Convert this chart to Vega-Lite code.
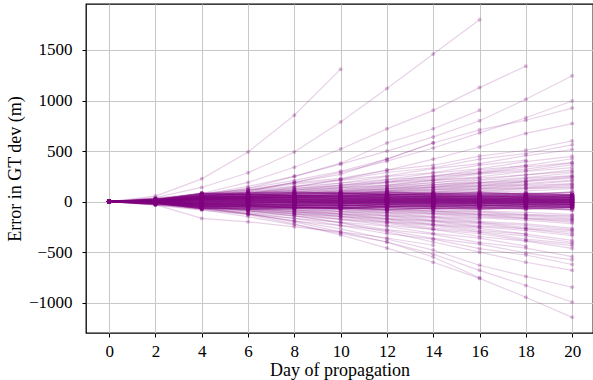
{
"$schema":"https://vega.github.io/schema/vega-lite/v6.json",
"width":507,"height":329,
"autosize":{"type":"none"},
"padding":{"left":86,"top":4,"right":0,"bottom":47},
"background":"white",
"config":{"view":{"stroke":"#000","strokeWidth":1.3},"font":"Liberation Serif",
"axis":{"labelFont":"Liberation Serif","titleFont":"Liberation Serif","labelFontSize":17,"titleFontSize":18,"titleFontWeight":"normal","labelColor":"#000","titleColor":"#000","tickColor":"#000","tickSize":4,"tickWidth":1,"domain":false,"gridColor":"#c8c8c8","gridWidth":1}},
"data":{"values":[
{"l":"c1","d":0,"e":0},{"l":"c1","d":2,"e":17},{"l":"c1","d":4,"e":80},{"l":"c1","d":6,"e":85},{"l":"c1","d":8,"e":93},{"l":"c1","d":10,"e":80},{"l":"c1","d":12,"e":95},{"l":"c1","d":14,"e":77},{"l":"c1","d":16,"e":90},{"l":"c1","d":18,"e":75},{"l":"c1","d":20,"e":91},
{"l":"c2","d":0,"e":0},{"l":"c2","d":2,"e":15},{"l":"c2","d":4,"e":79},{"l":"c2","d":6,"e":69},{"l":"c2","d":8,"e":79},{"l":"c2","d":10,"e":85},{"l":"c2","d":12,"e":67},{"l":"c2","d":14,"e":81},{"l":"c2","d":16,"e":71},{"l":"c2","d":18,"e":83},{"l":"c2","d":20,"e":65},
{"l":"c3","d":0,"e":0},{"l":"c3","d":2,"e":14},{"l":"c3","d":4,"e":60},{"l":"c3","d":6,"e":73},{"l":"c3","d":8,"e":58},{"l":"c3","d":10,"e":71},{"l":"c3","d":12,"e":76},{"l":"c3","d":14,"e":62},{"l":"c3","d":16,"e":78},{"l":"c3","d":18,"e":65},{"l":"c3","d":20,"e":68},
{"l":"c4","d":0,"e":0},{"l":"c4","d":2,"e":12},{"l":"c4","d":4,"e":66},{"l":"c4","d":6,"e":70},{"l":"c4","d":8,"e":56},{"l":"c4","d":10,"e":52},{"l":"c4","d":12,"e":65},{"l":"c4","d":14,"e":69},{"l":"c4","d":16,"e":53},{"l":"c4","d":18,"e":64},{"l":"c4","d":20,"e":54},
{"l":"c5","d":0,"e":0},{"l":"c5","d":2,"e":11},{"l":"c5","d":4,"e":50},{"l":"c5","d":6,"e":55},{"l":"c5","d":8,"e":63},{"l":"c5","d":10,"e":50},{"l":"c5","d":12,"e":65},{"l":"c5","d":14,"e":47},{"l":"c5","d":16,"e":60},{"l":"c5","d":18,"e":45},{"l":"c5","d":20,"e":61},
{"l":"c6","d":0,"e":0},{"l":"c6","d":2,"e":10},{"l":"c6","d":4,"e":54},{"l":"c6","d":6,"e":44},{"l":"c6","d":8,"e":54},{"l":"c6","d":10,"e":60},{"l":"c6","d":12,"e":42},{"l":"c6","d":14,"e":56},{"l":"c6","d":16,"e":46},{"l":"c6","d":18,"e":58},{"l":"c6","d":20,"e":40},
{"l":"c7","d":0,"e":0},{"l":"c7","d":2,"e":9},{"l":"c7","d":4,"e":37},{"l":"c7","d":6,"e":50},{"l":"c7","d":8,"e":35},{"l":"c7","d":10,"e":48},{"l":"c7","d":12,"e":53},{"l":"c7","d":14,"e":39},{"l":"c7","d":16,"e":55},{"l":"c7","d":18,"e":42},{"l":"c7","d":20,"e":45},
{"l":"c8","d":0,"e":0},{"l":"c8","d":2,"e":8},{"l":"c8","d":4,"e":46},{"l":"c8","d":6,"e":50},{"l":"c8","d":8,"e":36},{"l":"c8","d":10,"e":32},{"l":"c8","d":12,"e":45},{"l":"c8","d":14,"e":49},{"l":"c8","d":16,"e":33},{"l":"c8","d":18,"e":44},{"l":"c8","d":20,"e":34},
{"l":"c9","d":0,"e":0},{"l":"c9","d":2,"e":7},{"l":"c9","d":4,"e":30},{"l":"c9","d":6,"e":35},{"l":"c9","d":8,"e":43},{"l":"c9","d":10,"e":30},{"l":"c9","d":12,"e":45},{"l":"c9","d":14,"e":27},{"l":"c9","d":16,"e":40},{"l":"c9","d":18,"e":25},{"l":"c9","d":20,"e":41},
{"l":"c10","d":0,"e":0},{"l":"c10","d":2,"e":6},{"l":"c10","d":4,"e":34},{"l":"c10","d":6,"e":24},{"l":"c10","d":8,"e":34},{"l":"c10","d":10,"e":40},{"l":"c10","d":12,"e":22},{"l":"c10","d":14,"e":36},{"l":"c10","d":16,"e":26},{"l":"c10","d":18,"e":38},{"l":"c10","d":20,"e":20},
{"l":"c11","d":0,"e":0},{"l":"c11","d":2,"e":5},{"l":"c11","d":4,"e":18},{"l":"c11","d":6,"e":31},{"l":"c11","d":8,"e":16},{"l":"c11","d":10,"e":29},{"l":"c11","d":12,"e":34},{"l":"c11","d":14,"e":20},{"l":"c11","d":16,"e":36},{"l":"c11","d":18,"e":23},{"l":"c11","d":20,"e":26},
{"l":"c12","d":0,"e":0},{"l":"c12","d":2,"e":4},{"l":"c12","d":4,"e":28},{"l":"c12","d":6,"e":32},{"l":"c12","d":8,"e":18},{"l":"c12","d":10,"e":14},{"l":"c12","d":12,"e":27},{"l":"c12","d":14,"e":31},{"l":"c12","d":16,"e":15},{"l":"c12","d":18,"e":26},{"l":"c12","d":20,"e":16},
{"l":"c13","d":0,"e":0},{"l":"c13","d":2,"e":4},{"l":"c13","d":4,"e":13},{"l":"c13","d":6,"e":18},{"l":"c13","d":8,"e":26},{"l":"c13","d":10,"e":13},{"l":"c13","d":12,"e":28},{"l":"c13","d":14,"e":10},{"l":"c13","d":16,"e":23},{"l":"c13","d":18,"e":8},{"l":"c13","d":20,"e":24},
{"l":"c14","d":0,"e":0},{"l":"c14","d":2,"e":3},{"l":"c14","d":4,"e":18},{"l":"c14","d":6,"e":8},{"l":"c14","d":8,"e":18},{"l":"c14","d":10,"e":24},{"l":"c14","d":12,"e":6},{"l":"c14","d":14,"e":20},{"l":"c14","d":16,"e":10},{"l":"c14","d":18,"e":22},{"l":"c14","d":20,"e":4},
{"l":"c15","d":0,"e":0},{"l":"c15","d":2,"e":2},{"l":"c15","d":4,"e":2},{"l":"c15","d":6,"e":15},{"l":"c15","d":8,"e":0},{"l":"c15","d":10,"e":13},{"l":"c15","d":12,"e":18},{"l":"c15","d":14,"e":4},{"l":"c15","d":16,"e":20},{"l":"c15","d":18,"e":7},{"l":"c15","d":20,"e":10},
{"l":"c16","d":0,"e":0},{"l":"c16","d":2,"e":1},{"l":"c16","d":4,"e":12},{"l":"c16","d":6,"e":16},{"l":"c16","d":8,"e":2},{"l":"c16","d":10,"e":-2},{"l":"c16","d":12,"e":11},{"l":"c16","d":14,"e":15},{"l":"c16","d":16,"e":-1},{"l":"c16","d":18,"e":10},{"l":"c16","d":20,"e":0},
{"l":"c17","d":0,"e":0},{"l":"c17","d":2,"e":0},{"l":"c17","d":4,"e":-3},{"l":"c17","d":6,"e":2},{"l":"c17","d":8,"e":10},{"l":"c17","d":10,"e":-3},{"l":"c17","d":12,"e":12},{"l":"c17","d":14,"e":-6},{"l":"c17","d":16,"e":7},{"l":"c17","d":18,"e":-8},{"l":"c17","d":20,"e":8},
{"l":"c18","d":0,"e":0},{"l":"c18","d":2,"e":0},{"l":"c18","d":4,"e":2},{"l":"c18","d":6,"e":-8},{"l":"c18","d":8,"e":2},{"l":"c18","d":10,"e":8},{"l":"c18","d":12,"e":-10},{"l":"c18","d":14,"e":4},{"l":"c18","d":16,"e":-6},{"l":"c18","d":18,"e":6},{"l":"c18","d":20,"e":-12},
{"l":"c19","d":0,"e":0},{"l":"c19","d":2,"e":-1},{"l":"c19","d":4,"e":-14},{"l":"c19","d":6,"e":-1},{"l":"c19","d":8,"e":-16},{"l":"c19","d":10,"e":-3},{"l":"c19","d":12,"e":2},{"l":"c19","d":14,"e":-12},{"l":"c19","d":16,"e":4},{"l":"c19","d":18,"e":-9},{"l":"c19","d":20,"e":-6},
{"l":"c20","d":0,"e":0},{"l":"c20","d":2,"e":-2},{"l":"c20","d":4,"e":-4},{"l":"c20","d":6,"e":0},{"l":"c20","d":8,"e":-14},{"l":"c20","d":10,"e":-18},{"l":"c20","d":12,"e":-5},{"l":"c20","d":14,"e":-1},{"l":"c20","d":16,"e":-17},{"l":"c20","d":18,"e":-6},{"l":"c20","d":20,"e":-16},
{"l":"c21","d":0,"e":0},{"l":"c21","d":2,"e":-3},{"l":"c21","d":4,"e":-20},{"l":"c21","d":6,"e":-15},{"l":"c21","d":8,"e":-7},{"l":"c21","d":10,"e":-20},{"l":"c21","d":12,"e":-5},{"l":"c21","d":14,"e":-23},{"l":"c21","d":16,"e":-10},{"l":"c21","d":18,"e":-25},{"l":"c21","d":20,"e":-9},
{"l":"c22","d":0,"e":0},{"l":"c22","d":2,"e":-4},{"l":"c22","d":4,"e":-16},{"l":"c22","d":6,"e":-26},{"l":"c22","d":8,"e":-16},{"l":"c22","d":10,"e":-10},{"l":"c22","d":12,"e":-28},{"l":"c22","d":14,"e":-14},{"l":"c22","d":16,"e":-24},{"l":"c22","d":18,"e":-12},{"l":"c22","d":20,"e":-30},
{"l":"c23","d":0,"e":0},{"l":"c23","d":2,"e":-5},{"l":"c23","d":4,"e":-33},{"l":"c23","d":6,"e":-20},{"l":"c23","d":8,"e":-35},{"l":"c23","d":10,"e":-22},{"l":"c23","d":12,"e":-17},{"l":"c23","d":14,"e":-31},{"l":"c23","d":16,"e":-15},{"l":"c23","d":18,"e":-28},{"l":"c23","d":20,"e":-25},
{"l":"c24","d":0,"e":0},{"l":"c24","d":2,"e":-6},{"l":"c24","d":4,"e":-24},{"l":"c24","d":6,"e":-20},{"l":"c24","d":8,"e":-34},{"l":"c24","d":10,"e":-38},{"l":"c24","d":12,"e":-25},{"l":"c24","d":14,"e":-21},{"l":"c24","d":16,"e":-37},{"l":"c24","d":18,"e":-26},{"l":"c24","d":20,"e":-36},
{"l":"c25","d":0,"e":0},{"l":"c25","d":2,"e":-7},{"l":"c25","d":4,"e":-41},{"l":"c25","d":6,"e":-36},{"l":"c25","d":8,"e":-28},{"l":"c25","d":10,"e":-41},{"l":"c25","d":12,"e":-26},{"l":"c25","d":14,"e":-44},{"l":"c25","d":16,"e":-31},{"l":"c25","d":18,"e":-46},{"l":"c25","d":20,"e":-30},
{"l":"c26","d":0,"e":0},{"l":"c26","d":2,"e":-8},{"l":"c26","d":4,"e":-38},{"l":"c26","d":6,"e":-48},{"l":"c26","d":8,"e":-38},{"l":"c26","d":10,"e":-32},{"l":"c26","d":12,"e":-50},{"l":"c26","d":14,"e":-36},{"l":"c26","d":16,"e":-46},{"l":"c26","d":18,"e":-34},{"l":"c26","d":20,"e":-52},
{"l":"c27","d":0,"e":0},{"l":"c27","d":2,"e":-10},{"l":"c27","d":4,"e":-56},{"l":"c27","d":6,"e":-43},{"l":"c27","d":8,"e":-58},{"l":"c27","d":10,"e":-45},{"l":"c27","d":12,"e":-40},{"l":"c27","d":14,"e":-54},{"l":"c27","d":16,"e":-38},{"l":"c27","d":18,"e":-51},{"l":"c27","d":20,"e":-48},
{"l":"c28","d":0,"e":0},{"l":"c28","d":2,"e":-11},{"l":"c28","d":4,"e":-49},{"l":"c28","d":6,"e":-45},{"l":"c28","d":8,"e":-59},{"l":"c28","d":10,"e":-63},{"l":"c28","d":12,"e":-50},{"l":"c28","d":14,"e":-46},{"l":"c28","d":16,"e":-62},{"l":"c28","d":18,"e":-51},{"l":"c28","d":20,"e":-61},
{"l":"c29","d":0,"e":0},{"l":"c29","d":2,"e":-12},{"l":"c29","d":4,"e":-67},{"l":"c29","d":6,"e":-62},{"l":"c29","d":8,"e":-54},{"l":"c29","d":10,"e":-67},{"l":"c29","d":12,"e":-52},{"l":"c29","d":14,"e":-70},{"l":"c29","d":16,"e":-57},{"l":"c29","d":18,"e":-72},{"l":"c29","d":20,"e":-56},
{"l":"c30","d":0,"e":0},{"l":"c30","d":2,"e":-14},{"l":"c30","d":4,"e":-66},{"l":"c30","d":6,"e":-76},{"l":"c30","d":8,"e":-66},{"l":"c30","d":10,"e":-60},{"l":"c30","d":12,"e":-78},{"l":"c30","d":14,"e":-64},{"l":"c30","d":16,"e":-74},{"l":"c30","d":18,"e":-62},{"l":"c30","d":20,"e":-80},
{"l":"p1","d":0,"e":0},{"l":"p1","d":2,"e":35},{"l":"p1","d":4,"e":82},{"l":"p1","d":6,"e":118},{"l":"p1","d":8,"e":186},{"l":"p1","d":10,"e":230},{"l":"p1","d":12,"e":312},{"l":"p1","d":14,"e":360},{"l":"p1","d":16,"e":450},{"l":"p1","d":18,"e":508},{"l":"p1","d":20,"e":600},
{"l":"p2","d":0,"e":0},{"l":"p2","d":2,"e":30},{"l":"p2","d":4,"e":75},{"l":"p2","d":6,"e":112},{"l":"p2","d":8,"e":172},{"l":"p2","d":10,"e":216},{"l":"p2","d":12,"e":288},{"l":"p2","d":14,"e":335},{"l":"p2","d":16,"e":420},{"l":"p2","d":18,"e":476},{"l":"p2","d":20,"e":562},
{"l":"p3","d":0,"e":0},{"l":"p3","d":2,"e":31},{"l":"p3","d":4,"e":64},{"l":"p3","d":6,"e":112},{"l":"p3","d":8,"e":150},{"l":"p3","d":10,"e":210},{"l":"p3","d":12,"e":254},{"l":"p3","d":14,"e":326},{"l":"p3","d":16,"e":376},{"l":"p3","d":18,"e":455},{"l":"p3","d":20,"e":515},
{"l":"p4","d":0,"e":0},{"l":"p4","d":2,"e":26},{"l":"p4","d":4,"e":64},{"l":"p4","d":6,"e":95},{"l":"p4","d":8,"e":148},{"l":"p4","d":10,"e":184},{"l":"p4","d":12,"e":247},{"l":"p4","d":14,"e":288},{"l":"p4","d":16,"e":360},{"l":"p4","d":18,"e":410},
{"l":"p5","d":0,"e":0},{"l":"p5","d":2,"e":27},{"l":"p5","d":4,"e":55},{"l":"p5","d":6,"e":97},{"l":"p5","d":8,"e":128},{"l":"p5","d":10,"e":182},{"l":"p5","d":12,"e":220},{"l":"p5","d":14,"e":282},{"l":"p5","d":16,"e":325},{"l":"p5","d":18,"e":395},{"l":"p5","d":20,"e":448},
{"l":"p6","d":0,"e":0},{"l":"p6","d":2,"e":22},{"l":"p6","d":4,"e":57},{"l":"p6","d":6,"e":84},{"l":"p6","d":8,"e":130},{"l":"p6","d":10,"e":160},{"l":"p6","d":12,"e":216},{"l":"p6","d":14,"e":250},{"l":"p6","d":16,"e":316},{"l":"p6","d":18,"e":356},{"l":"p6","d":20,"e":424},
{"l":"p7","d":0,"e":0},{"l":"p7","d":2,"e":24},{"l":"p7","d":4,"e":48},{"l":"p7","d":6,"e":85},{"l":"p7","d":8,"e":110},{"l":"p7","d":10,"e":159},{"l":"p7","d":12,"e":190},{"l":"p7","d":14,"e":245},{"l":"p7","d":16,"e":282},{"l":"p7","d":18,"e":343},{"l":"p7","d":20,"e":386},
{"l":"p8","d":0,"e":0},{"l":"p8","d":2,"e":20},{"l":"p8","d":4,"e":49},{"l":"p8","d":6,"e":72},{"l":"p8","d":8,"e":112},{"l":"p8","d":10,"e":138},{"l":"p8","d":12,"e":186},{"l":"p8","d":14,"e":215},{"l":"p8","d":16,"e":271},{"l":"p8","d":18,"e":305},{"l":"p8","d":20,"e":364},
{"l":"p9","d":0,"e":0},{"l":"p9","d":2,"e":18},{"l":"p9","d":4,"e":40},{"l":"p9","d":6,"e":71},{"l":"p9","d":8,"e":94},{"l":"p9","d":10,"e":134},{"l":"p9","d":12,"e":160},{"l":"p9","d":14,"e":208},{"l":"p9","d":16,"e":238},
{"l":"p10","d":0,"e":0},{"l":"p10","d":2,"e":18},{"l":"p10","d":4,"e":36},{"l":"p10","d":6,"e":65},{"l":"p10","d":8,"e":86},{"l":"p10","d":10,"e":122},{"l":"p10","d":12,"e":146},{"l":"p10","d":14,"e":189},{"l":"p10","d":16,"e":216},{"l":"p10","d":18,"e":265},{"l":"p10","d":20,"e":297},
{"l":"p11","d":0,"e":0},{"l":"p11","d":2,"e":15},{"l":"p11","d":4,"e":38},{"l":"p11","d":6,"e":55},{"l":"p11","d":8,"e":87},{"l":"p11","d":10,"e":106},{"l":"p11","d":12,"e":145},{"l":"p11","d":14,"e":167},{"l":"p11","d":16,"e":211},{"l":"p11","d":18,"e":237},{"l":"p11","d":20,"e":283},
{"l":"p12","d":0,"e":0},{"l":"p12","d":2,"e":16},{"l":"p12","d":4,"e":31},{"l":"p12","d":6,"e":57},{"l":"p12","d":8,"e":74},{"l":"p12","d":10,"e":106},{"l":"p12","d":12,"e":126},{"l":"p12","d":14,"e":164},{"l":"p12","d":16,"e":187},{"l":"p12","d":18,"e":230},{"l":"p12","d":20,"e":257},
{"l":"p13","d":0,"e":0},{"l":"p13","d":2,"e":13},{"l":"p13","d":4,"e":33},{"l":"p13","d":6,"e":47},{"l":"p13","d":8,"e":75},{"l":"p13","d":10,"e":92},{"l":"p13","d":12,"e":124},{"l":"p13","d":14,"e":143},{"l":"p13","d":16,"e":181},{"l":"p13","d":18,"e":202},{"l":"p13","d":20,"e":243},
{"l":"p14","d":0,"e":0},{"l":"p14","d":2,"e":14},{"l":"p14","d":4,"e":26},{"l":"p14","d":6,"e":49},{"l":"p14","d":8,"e":62},{"l":"p14","d":10,"e":90},{"l":"p14","d":12,"e":107},{"l":"p14","d":14,"e":139},{"l":"p14","d":16,"e":158},{"l":"p14","d":18,"e":195},
{"l":"p15","d":0,"e":0},{"l":"p15","d":2,"e":11},{"l":"p15","d":4,"e":28},{"l":"p15","d":6,"e":39},{"l":"p15","d":8,"e":62},{"l":"p15","d":10,"e":76},{"l":"p15","d":12,"e":104},{"l":"p15","d":14,"e":119},{"l":"p15","d":16,"e":151},{"l":"p15","d":18,"e":169},{"l":"p15","d":20,"e":203},
{"l":"p16","d":0,"e":0},{"l":"p16","d":2,"e":11},{"l":"p16","d":4,"e":21},{"l":"p16","d":6,"e":40},{"l":"p16","d":8,"e":50},{"l":"p16","d":10,"e":74},{"l":"p16","d":12,"e":87},{"l":"p16","d":14,"e":113},{"l":"p16","d":16,"e":129},{"l":"p16","d":18,"e":160},{"l":"p16","d":20,"e":178},
{"l":"p17","d":0,"e":0},{"l":"p17","d":2,"e":8},{"l":"p17","d":4,"e":22},{"l":"p17","d":6,"e":31},{"l":"p17","d":8,"e":50},{"l":"p17","d":10,"e":60},{"l":"p17","d":12,"e":83},{"l":"p17","d":14,"e":95},{"l":"p17","d":16,"e":121},{"l":"p17","d":18,"e":135},{"l":"p17","d":20,"e":162},
{"l":"p18","d":0,"e":0},{"l":"p18","d":2,"e":9},{"l":"p18","d":4,"e":16},{"l":"p18","d":6,"e":31},{"l":"p18","d":8,"e":39},{"l":"p18","d":10,"e":58},{"l":"p18","d":12,"e":67},{"l":"p18","d":14,"e":89},{"l":"p18","d":16,"e":100},{"l":"p18","d":18,"e":125},{"l":"p18","d":20,"e":138},
{"l":"q1","d":0,"e":0},{"l":"q1","d":2,"e":7},{"l":"q1","d":4,"e":18},{"l":"q1","d":6,"e":24},{"l":"q1","d":8,"e":39},{"l":"q1","d":10,"e":47},{"l":"q1","d":12,"e":65},{"l":"q1","d":14,"e":75},{"l":"q1","d":16,"e":94},{"l":"q1","d":18,"e":106},{"l":"q1","d":20,"e":127},
{"l":"q2","d":0,"e":0},{"l":"q2","d":2,"e":10},{"l":"q2","d":4,"e":17},{"l":"q2","d":6,"e":33},{"l":"q2","d":8,"e":42},{"l":"q2","d":10,"e":61},{"l":"q2","d":12,"e":73},{"l":"q2","d":14,"e":94},{"l":"q2","d":16,"e":108},{"l":"q2","d":18,"e":132},{"l":"q2","d":20,"e":148},
{"l":"q3","d":0,"e":0},{"l":"q3","d":2,"e":9},{"l":"q3","d":4,"e":24},{"l":"q3","d":6,"e":33},{"l":"q3","d":8,"e":52},{"l":"q3","d":10,"e":65},{"l":"q3","d":12,"e":87},{"l":"q3","d":14,"e":102},{"l":"q3","d":16,"e":127},{"l":"q3","d":18,"e":145},{"l":"q3","d":20,"e":172},
{"l":"q4","d":0,"e":0},{"l":"q4","d":2,"e":12},{"l":"q4","d":4,"e":22},{"l":"q4","d":6,"e":41},{"l":"q4","d":8,"e":54},{"l":"q4","d":10,"e":77},{"l":"q4","d":12,"e":93},{"l":"q4","d":14,"e":118},{"l":"q4","d":16,"e":138},{"l":"q4","d":18,"e":166},
{"l":"q5","d":0,"e":0},{"l":"q5","d":2,"e":11},{"l":"q5","d":4,"e":29},{"l":"q5","d":6,"e":41},{"l":"q5","d":8,"e":64},{"l":"q5","d":10,"e":81},{"l":"q5","d":12,"e":107},{"l":"q5","d":14,"e":127},{"l":"q5","d":16,"e":156},{"l":"q5","d":18,"e":179},{"l":"q5","d":20,"e":212},
{"l":"q6","d":0,"e":0},{"l":"q6","d":2,"e":14},{"l":"q6","d":4,"e":27},{"l":"q6","d":6,"e":50},{"l":"q6","d":8,"e":66},{"l":"q6","d":10,"e":93},{"l":"q6","d":12,"e":113},{"l":"q6","d":14,"e":143},{"l":"q6","d":16,"e":167},{"l":"q6","d":18,"e":197},{"l":"q6","d":20,"e":232},
{"l":"q7","d":0,"e":0},{"l":"q7","d":2,"e":14},{"l":"q7","d":4,"e":34},{"l":"q7","d":6,"e":50},{"l":"q7","d":8,"e":77},{"l":"q7","d":10,"e":97},{"l":"q7","d":12,"e":128},{"l":"q7","d":14,"e":150},{"l":"q7","d":16,"e":187},{"l":"q7","d":18,"e":213},{"l":"q7","d":20,"e":252},
{"l":"q8","d":0,"e":0},{"l":"q8","d":2,"e":17},{"l":"q8","d":4,"e":33},{"l":"q8","d":6,"e":58},{"l":"q8","d":8,"e":78},{"l":"q8","d":10,"e":109},{"l":"q8","d":12,"e":132},{"l":"q8","d":14,"e":169},{"l":"q8","d":16,"e":195},
{"l":"q9","d":0,"e":0},{"l":"q9","d":2,"e":17},{"l":"q9","d":4,"e":42},{"l":"q9","d":6,"e":62},{"l":"q9","d":8,"e":95},{"l":"q9","d":10,"e":119},{"l":"q9","d":12,"e":158},{"l":"q9","d":14,"e":186},{"l":"q9","d":16,"e":232},{"l":"q9","d":18,"e":264},{"l":"q9","d":20,"e":313},
{"l":"q10","d":0,"e":0},{"l":"q10","d":2,"e":21},{"l":"q10","d":4,"e":42},{"l":"q10","d":6,"e":73},{"l":"q10","d":8,"e":98},{"l":"q10","d":10,"e":137},{"l":"q10","d":12,"e":166},{"l":"q10","d":14,"e":212},{"l":"q10","d":16,"e":246},{"l":"q10","d":18,"e":298},{"l":"q10","d":20,"e":337},
{"l":"q11","d":0,"e":0},{"l":"q11","d":2,"e":21},{"l":"q11","d":4,"e":51},{"l":"q11","d":6,"e":76},{"l":"q11","d":8,"e":115},{"l":"q11","d":10,"e":146},{"l":"q11","d":12,"e":194},{"l":"q11","d":14,"e":228},{"l":"q11","d":16,"e":284},{"l":"q11","d":18,"e":322},{"l":"q11","d":20,"e":384},
{"l":"q12","d":0,"e":0},{"l":"q12","d":2,"e":25},{"l":"q12","d":4,"e":50},{"l":"q12","d":6,"e":88},{"l":"q12","d":8,"e":118},{"l":"q12","d":10,"e":166},{"l":"q12","d":12,"e":201},{"l":"q12","d":14,"e":256},{"l":"q12","d":16,"e":296},{"l":"q12","d":18,"e":358},
{"l":"n1","d":0,"e":0},{"l":"n1","d":2,"e":-36},{"l":"n1","d":4,"e":-84},{"l":"n1","d":6,"e":-124},{"l":"n1","d":8,"e":-192},{"l":"n1","d":10,"e":-238},{"l":"n1","d":12,"e":-318},{"l":"n1","d":14,"e":-372},{"l":"n1","d":16,"e":-466},{"l":"n1","d":18,"e":-528},{"l":"n1","d":20,"e":-622},
{"l":"n2","d":0,"e":0},{"l":"n2","d":2,"e":-33},{"l":"n2","d":4,"e":-70},{"l":"n2","d":6,"e":-124},{"l":"n2","d":8,"e":-166},{"l":"n2","d":10,"e":-236},{"l":"n2","d":12,"e":-284},{"l":"n2","d":14,"e":-364},{"l":"n2","d":16,"e":-420},{"l":"n2","d":18,"e":-508},{"l":"n2","d":20,"e":-576},
{"l":"n3","d":0,"e":0},{"l":"n3","d":2,"e":-31},{"l":"n3","d":4,"e":-73},{"l":"n3","d":6,"e":-108},{"l":"n3","d":8,"e":-166},{"l":"n3","d":10,"e":-207},{"l":"n3","d":12,"e":-277},{"l":"n3","d":14,"e":-324},{"l":"n3","d":16,"e":-405},{"l":"n3","d":18,"e":-460},{"l":"n3","d":20,"e":-545},
{"l":"n4","d":0,"e":0},{"l":"n4","d":2,"e":-28},{"l":"n4","d":4,"e":-60},{"l":"n4","d":6,"e":-108},{"l":"n4","d":8,"e":-143},{"l":"n4","d":10,"e":-203},{"l":"n4","d":12,"e":-244},{"l":"n4","d":14,"e":-314},{"l":"n4","d":16,"e":-362},{"l":"n4","d":18,"e":-440},
{"l":"n5","d":0,"e":0},{"l":"n5","d":2,"e":-27},{"l":"n5","d":4,"e":-63},{"l":"n5","d":6,"e":-91},{"l":"n5","d":8,"e":-141},{"l":"n5","d":10,"e":-176},{"l":"n5","d":12,"e":-236},{"l":"n5","d":14,"e":-276},{"l":"n5","d":16,"e":-345},{"l":"n5","d":18,"e":-391},{"l":"n5","d":20,"e":-463},
{"l":"n6","d":0,"e":0},{"l":"n6","d":2,"e":-25},{"l":"n6","d":4,"e":-50},{"l":"n6","d":6,"e":-91},{"l":"n6","d":8,"e":-119},{"l":"n6","d":10,"e":-170},{"l":"n6","d":12,"e":-204},{"l":"n6","d":14,"e":-263},{"l":"n6","d":16,"e":-303},{"l":"n6","d":18,"e":-370},{"l":"n6","d":20,"e":-416},
{"l":"n7","d":0,"e":0},{"l":"n7","d":2,"e":-21},{"l":"n7","d":4,"e":-52},{"l":"n7","d":6,"e":-76},{"l":"n7","d":8,"e":-117},{"l":"n7","d":10,"e":-145},{"l":"n7","d":12,"e":-195},{"l":"n7","d":14,"e":-228},{"l":"n7","d":16,"e":-285},{"l":"n7","d":18,"e":-322},{"l":"n7","d":20,"e":-383},
{"l":"n8","d":0,"e":0},{"l":"n8","d":2,"e":-20},{"l":"n8","d":4,"e":-42},{"l":"n8","d":6,"e":-75},{"l":"n8","d":8,"e":-100},{"l":"n8","d":10,"e":-142},{"l":"n8","d":12,"e":-170},{"l":"n8","d":14,"e":-220},{"l":"n8","d":16,"e":-252},
{"l":"n9","d":0,"e":0},{"l":"n9","d":2,"e":-18},{"l":"n9","d":4,"e":-44},{"l":"n9","d":6,"e":-63},{"l":"n9","d":8,"e":-99},{"l":"n9","d":10,"e":-122},{"l":"n9","d":12,"e":-165},{"l":"n9","d":14,"e":-191},{"l":"n9","d":16,"e":-241},{"l":"n9","d":18,"e":-270},{"l":"n9","d":20,"e":-322},
{"l":"n10","d":0,"e":0},{"l":"n10","d":2,"e":-17},{"l":"n10","d":4,"e":-34},{"l":"n10","d":6,"e":-63},{"l":"n10","d":8,"e":-82},{"l":"n10","d":10,"e":-118},{"l":"n10","d":12,"e":-140},{"l":"n10","d":14,"e":-183},{"l":"n10","d":16,"e":-208},{"l":"n10","d":18,"e":-256},{"l":"n10","d":20,"e":-287},
{"l":"n11","d":0,"e":0},{"l":"n11","d":2,"e":-14},{"l":"n11","d":4,"e":-36},{"l":"n11","d":6,"e":-51},{"l":"n11","d":8,"e":-80},{"l":"n11","d":10,"e":-98},{"l":"n11","d":12,"e":-134},{"l":"n11","d":14,"e":-154},{"l":"n11","d":16,"e":-196},{"l":"n11","d":18,"e":-220},{"l":"n11","d":20,"e":-263},
{"l":"n12","d":0,"e":0},{"l":"n12","d":2,"e":-14},{"l":"n12","d":4,"e":-27},{"l":"n12","d":6,"e":-50},{"l":"n12","d":8,"e":-65},{"l":"n12","d":10,"e":-94},{"l":"n12","d":12,"e":-111},{"l":"n12","d":14,"e":-145},{"l":"n12","d":16,"e":-165},
{"l":"n13","d":0,"e":0},{"l":"n13","d":2,"e":-11},{"l":"n13","d":4,"e":-28},{"l":"n13","d":6,"e":-38},{"l":"n13","d":8,"e":-62},{"l":"n13","d":10,"e":-76},{"l":"n13","d":12,"e":-104},{"l":"n13","d":14,"e":-119},{"l":"n13","d":16,"e":-151},{"l":"n13","d":18,"e":-169},{"l":"n13","d":20,"e":-203},
{"l":"n14","d":0,"e":0},{"l":"n14","d":2,"e":-11},{"l":"n14","d":4,"e":-21},{"l":"n14","d":6,"e":-40},{"l":"n14","d":8,"e":-50},{"l":"n14","d":10,"e":-74},{"l":"n14","d":12,"e":-87},{"l":"n14","d":14,"e":-113},{"l":"n14","d":16,"e":-129},{"l":"n14","d":18,"e":-160},{"l":"n14","d":20,"e":-178},
{"l":"n15","d":0,"e":0},{"l":"n15","d":2,"e":-8},{"l":"n15","d":4,"e":-22},{"l":"n15","d":6,"e":-31},{"l":"n15","d":8,"e":-50},{"l":"n15","d":10,"e":-60},{"l":"n15","d":12,"e":-83},{"l":"n15","d":14,"e":-95},{"l":"n15","d":16,"e":-121},{"l":"n15","d":18,"e":-135},{"l":"n15","d":20,"e":-162},
{"l":"n16","d":0,"e":0},{"l":"n16","d":2,"e":-9},{"l":"n16","d":4,"e":-16},{"l":"n16","d":6,"e":-31},{"l":"n16","d":8,"e":-39},{"l":"n16","d":10,"e":-58},{"l":"n16","d":12,"e":-67},{"l":"n16","d":14,"e":-89},{"l":"n16","d":16,"e":-100},{"l":"n16","d":18,"e":-125},{"l":"n16","d":20,"e":-138},
{"l":"r1","d":0,"e":0},{"l":"r1","d":2,"e":-7},{"l":"r1","d":4,"e":-18},{"l":"r1","d":6,"e":-24},{"l":"r1","d":8,"e":-39},{"l":"r1","d":10,"e":-47},{"l":"r1","d":12,"e":-65},{"l":"r1","d":14,"e":-75},{"l":"r1","d":16,"e":-94},{"l":"r1","d":18,"e":-106},{"l":"r1","d":20,"e":-127},
{"l":"r2","d":0,"e":0},{"l":"r2","d":2,"e":-10},{"l":"r2","d":4,"e":-17},{"l":"r2","d":6,"e":-33},{"l":"r2","d":8,"e":-42},{"l":"r2","d":10,"e":-61},{"l":"r2","d":12,"e":-73},{"l":"r2","d":14,"e":-94},{"l":"r2","d":16,"e":-108},{"l":"r2","d":18,"e":-132},{"l":"r2","d":20,"e":-148},
{"l":"r3","d":0,"e":0},{"l":"r3","d":2,"e":-9},{"l":"r3","d":4,"e":-24},{"l":"r3","d":6,"e":-33},{"l":"r3","d":8,"e":-52},{"l":"r3","d":10,"e":-65},{"l":"r3","d":12,"e":-87},{"l":"r3","d":14,"e":-102},{"l":"r3","d":16,"e":-127},{"l":"r3","d":18,"e":-145},{"l":"r3","d":20,"e":-172},
{"l":"r4","d":0,"e":0},{"l":"r4","d":2,"e":-12},{"l":"r4","d":4,"e":-22},{"l":"r4","d":6,"e":-41},{"l":"r4","d":8,"e":-54},{"l":"r4","d":10,"e":-77},{"l":"r4","d":12,"e":-93},{"l":"r4","d":14,"e":-118},{"l":"r4","d":16,"e":-138},{"l":"r4","d":18,"e":-166},{"l":"r4","d":20,"e":-190},
{"l":"r5","d":0,"e":0},{"l":"r5","d":2,"e":-12},{"l":"r5","d":4,"e":-30},{"l":"r5","d":6,"e":-43},{"l":"r5","d":8,"e":-66},{"l":"r5","d":10,"e":-83},{"l":"r5","d":12,"e":-110},{"l":"r5","d":14,"e":-130},{"l":"r5","d":16,"e":-160},{"l":"r5","d":18,"e":-184},{"l":"r5","d":20,"e":-217},
{"l":"r6","d":0,"e":0},{"l":"r6","d":2,"e":-14},{"l":"r6","d":4,"e":-28},{"l":"r6","d":6,"e":-53},{"l":"r6","d":8,"e":-70},{"l":"r6","d":10,"e":-99},{"l":"r6","d":12,"e":-121},{"l":"r6","d":14,"e":-153},{"l":"r6","d":16,"e":-178},
{"l":"r7","d":0,"e":0},{"l":"r7","d":2,"e":-16},{"l":"r7","d":4,"e":-37},{"l":"r7","d":6,"e":-55},{"l":"r7","d":8,"e":-84},{"l":"r7","d":10,"e":-106},{"l":"r7","d":12,"e":-141},{"l":"r7","d":14,"e":-166},{"l":"r7","d":16,"e":-206},{"l":"r7","d":18,"e":-235},{"l":"r7","d":20,"e":-277},
{"l":"r8","d":0,"e":0},{"l":"r8","d":2,"e":-18},{"l":"r8","d":4,"e":-37},{"l":"r8","d":6,"e":-65},{"l":"r8","d":8,"e":-87},{"l":"r8","d":10,"e":-123},{"l":"r8","d":12,"e":-150},{"l":"r8","d":14,"e":-190},{"l":"r8","d":16,"e":-220},{"l":"r8","d":18,"e":-268},{"l":"r8","d":20,"e":-303},
{"l":"r9","d":0,"e":0},{"l":"r9","d":2,"e":-19},{"l":"r9","d":4,"e":-45},{"l":"r9","d":6,"e":-67},{"l":"r9","d":8,"e":-102},{"l":"r9","d":10,"e":-129},{"l":"r9","d":12,"e":-171},{"l":"r9","d":14,"e":-201},{"l":"r9","d":16,"e":-250},{"l":"r9","d":18,"e":-286},{"l":"r9","d":20,"e":-338},
{"l":"r10","d":0,"e":0},{"l":"r10","d":2,"e":-22},{"l":"r10","d":4,"e":-45},{"l":"r10","d":6,"e":-79},{"l":"r10","d":8,"e":-105},{"l":"r10","d":10,"e":-148},{"l":"r10","d":12,"e":-180},{"l":"r10","d":14,"e":-229},{"l":"r10","d":16,"e":-264},{"l":"r10","d":18,"e":-320},
{"l":"r11","d":0,"e":0},{"l":"r11","d":2,"e":-23},{"l":"r11","d":4,"e":-54},{"l":"r11","d":6,"e":-80},{"l":"r11","d":8,"e":-121},{"l":"r11","d":10,"e":-154},{"l":"r11","d":12,"e":-204},{"l":"r11","d":14,"e":-240},{"l":"r11","d":16,"e":-298},{"l":"r11","d":18,"e":-340},{"l":"r11","d":20,"e":-402},
{"l":"r12","d":0,"e":0},{"l":"r12","d":2,"e":-26},{"l":"r12","d":4,"e":-53},{"l":"r12","d":6,"e":-94},{"l":"r12","d":8,"e":-126},{"l":"r12","d":10,"e":-177},{"l":"r12","d":12,"e":-215},{"l":"r12","d":14,"e":-274},{"l":"r12","d":16,"e":-318},{"l":"r12","d":18,"e":-384},{"l":"r12","d":20,"e":-436},
{"l":"o1","d":0,"e":0},{"l":"o1","d":2,"e":40},{"l":"o1","d":4,"e":140},{"l":"o1","d":6,"e":285},{"l":"o1","d":8,"e":490},{"l":"o1","d":10,"e":787},{"l":"o1","d":12,"e":1118},{"l":"o1","d":14,"e":1460},{"l":"o1","d":16,"e":1800},
{"l":"o2","d":0,"e":0},{"l":"o2","d":2,"e":55},{"l":"o2","d":4,"e":225},{"l":"o2","d":6,"e":490},{"l":"o2","d":8,"e":855},{"l":"o2","d":10,"e":1310},
{"l":"o3","d":0,"e":0},{"l":"o3","d":2,"e":20},{"l":"o3","d":4,"e":80},{"l":"o3","d":6,"e":190},{"l":"o3","d":8,"e":340},{"l":"o3","d":10,"e":520},{"l":"o3","d":12,"e":720},{"l":"o3","d":14,"e":903},{"l":"o3","d":16,"e":1128},{"l":"o3","d":18,"e":1340},
{"l":"o4","d":0,"e":0},{"l":"o4","d":2,"e":15},{"l":"o4","d":4,"e":70},{"l":"o4","d":6,"e":150},{"l":"o4","d":8,"e":250},{"l":"o4","d":10,"e":370},{"l":"o4","d":12,"e":500},{"l":"o4","d":14,"e":640},{"l":"o4","d":16,"e":800},{"l":"o4","d":18,"e":1012},{"l":"o4","d":20,"e":1245},
{"l":"o5","d":0,"e":0},{"l":"o5","d":2,"e":10},{"l":"o5","d":4,"e":50},{"l":"o5","d":6,"e":110},{"l":"o5","d":8,"e":190},{"l":"o5","d":10,"e":290},{"l":"o5","d":12,"e":400},{"l":"o5","d":14,"e":530},{"l":"o5","d":16,"e":680},{"l":"o5","d":18,"e":830},{"l":"o5","d":20,"e":995},
{"l":"o6","d":0,"e":0},{"l":"o6","d":2,"e":20},{"l":"o6","d":4,"e":70},{"l":"o6","d":6,"e":130},{"l":"o6","d":8,"e":210},{"l":"o6","d":10,"e":300},{"l":"o6","d":12,"e":420},{"l":"o6","d":14,"e":580},{"l":"o6","d":16,"e":710},{"l":"o6","d":18,"e":805},{"l":"o6","d":20,"e":925},
{"l":"o7","d":0,"e":0},{"l":"o7","d":2,"e":10},{"l":"o7","d":4,"e":60},{"l":"o7","d":6,"e":130},{"l":"o7","d":8,"e":250},{"l":"o7","d":10,"e":380},{"l":"o7","d":12,"e":580},{"l":"o7","d":14,"e":721},{"l":"o7","d":16,"e":903},
{"l":"o8","d":0,"e":0},{"l":"o8","d":2,"e":5},{"l":"o8","d":4,"e":30},{"l":"o8","d":6,"e":80},{"l":"o8","d":8,"e":140},{"l":"o8","d":10,"e":220},{"l":"o8","d":12,"e":310},{"l":"o8","d":14,"e":420},{"l":"o8","d":16,"e":540},{"l":"o8","d":18,"e":675},{"l":"o8","d":20,"e":772},
{"l":"o9","d":0,"e":0},{"l":"o9","d":2,"e":8},{"l":"o9","d":4,"e":45},{"l":"o9","d":6,"e":100},{"l":"o9","d":8,"e":190},{"l":"o9","d":10,"e":270},{"l":"o9","d":12,"e":420},{"l":"o9","d":14,"e":582},
{"l":"m1","d":0,"e":0},{"l":"m1","d":2,"e":-15},{"l":"m1","d":4,"e":-60},{"l":"m1","d":6,"e":-130},{"l":"m1","d":8,"e":-220},{"l":"m1","d":10,"e":-330},{"l":"m1","d":12,"e":-460},{"l":"m1","d":14,"e":-600},{"l":"m1","d":16,"e":-760},{"l":"m1","d":18,"e":-946},{"l":"m1","d":20,"e":-1145},
{"l":"m2","d":0,"e":0},{"l":"m2","d":2,"e":-10},{"l":"m2","d":4,"e":-55},{"l":"m2","d":6,"e":-120},{"l":"m2","d":8,"e":-200},{"l":"m2","d":10,"e":-300},{"l":"m2","d":12,"e":-400},{"l":"m2","d":14,"e":-520},{"l":"m2","d":16,"e":-680},{"l":"m2","d":18,"e":-830},{"l":"m2","d":20,"e":-996},
{"l":"m3","d":0,"e":0},{"l":"m3","d":2,"e":-20},{"l":"m3","d":4,"e":-70},{"l":"m3","d":6,"e":-120},{"l":"m3","d":8,"e":-190},{"l":"m3","d":10,"e":-270},{"l":"m3","d":12,"e":-370},{"l":"m3","d":14,"e":-480},{"l":"m3","d":16,"e":-630},{"l":"m3","d":18,"e":-740},{"l":"m3","d":20,"e":-847},
{"l":"m4","d":0,"e":0},{"l":"m4","d":2,"e":-10},{"l":"m4","d":4,"e":-40},{"l":"m4","d":6,"e":-90},{"l":"m4","d":8,"e":-140},{"l":"m4","d":10,"e":-210},{"l":"m4","d":12,"e":-300},{"l":"m4","d":14,"e":-400},{"l":"m4","d":16,"e":-500},{"l":"m4","d":18,"e":-600},{"l":"m4","d":20,"e":-680},
{"l":"m5","d":0,"e":0},{"l":"m5","d":2,"e":-15},{"l":"m5","d":4,"e":-80},{"l":"m5","d":6,"e":-150},{"l":"m5","d":8,"e":-230},{"l":"m5","d":10,"e":-315},{"l":"m5","d":12,"e":-400},{"l":"m5","d":14,"e":-548},{"l":"m5","d":16,"e":-754},
{"l":"m6","d":0,"e":0},{"l":"m6","d":2,"e":-30},{"l":"m6","d":4,"e":-166},{"l":"m6","d":6,"e":-200},{"l":"m6","d":8,"e":-250},{"l":"m6","d":10,"e":-300},{"l":"m6","d":12,"e":-360},{"l":"m6","d":14,"e":-432}
]},
"encoding":{
"x":{"field":"d","type":"quantitative","scale":{"domain":[-1,20.9],"nice":false,"zero":false},"axis":{"values":[0,2,4,6,8,10,12,14,16,18,20],"title":"Day of propagation","labelFont":"Liberation Serif","titleFont":"Liberation Serif","labelPadding":6,"titlePadding":2,"format":"d"}},
"y":{"field":"e","type":"quantitative","scale":{"domain":[-1300,1955],"nice":false,"zero":false},"axis":{"values":[-1000,-500,0,500,1000,1500],"title":"Error in GT dev (m)","labelFont":"Liberation Serif","titleFont":"Liberation Serif","labelPadding":10,"titlePadding":4,"format":"d"}},
"detail":{"field":"l","type":"nominal"}
},
"layer":[
{"transform":[{"filter":"indexof(datum.l,'c')!==0"}],"mark":{"type":"line","color":"#800080","opacity":0.18,"strokeWidth":1.2}},
{"transform":[{"filter":"indexof(datum.l,'c')!==0"}],"mark":{"type":"point","filled":true,"color":"#800080","opacity":0.25,"size":16}},
{"transform":[{"filter":"indexof(datum.l,'c')===0"}],"mark":{"type":"line","color":"#800080","opacity":0.5,"strokeWidth":1.6}},
{"transform":[{"filter":"indexof(datum.l,'c')===0"}],"mark":{"type":"point","filled":true,"color":"#800080","opacity":0.5,"size":22}}
]
}
